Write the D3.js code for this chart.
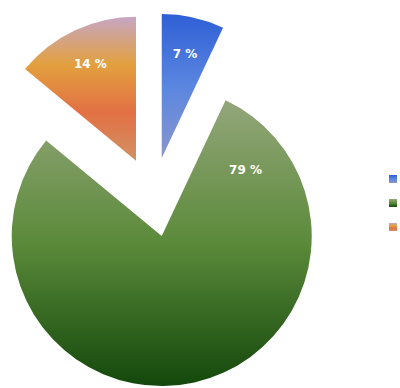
<!DOCTYPE html>
<html>
<head>
<meta charset="utf-8">
<script src="https://cdn.jsdelivr.net/npm/d3@7"></script>
<style>
  body { margin: 0; background: #fff; }
  svg { display: block; }
</style>
</head>
<body>
<svg width="400" height="388"></svg>
<script>
// slices, clockwise from 12 o'clock
var categories = ["A", "B", "C"];
var values = [7, 79, 14];
var labels = ["7 %", "79 %", "14 %"];
// vertical gradient stops per slice (top -> bottom)
var gradStops = [
    ["#2f5fd6", "#5a86e0", "#8a96cc"],
    ["#93a67a", "#5b8a3a", "#14480c"],
    ["#c6a6c4", "#e2a03e", "#e27044", "#d29264"]
];

var svg = d3.select("svg");
var cx = 153, cy = 197, explode = 40;
var rBig = 150, rSmall = 144;
var vMax = d3.max(values);

var pie = d3.pie().sort(null).value(d => d);
var arcs = pie(values);
var radius = d => d.value === vMax ? rBig : rSmall;
var arc = d3.arc().innerRadius(0).outerRadius(radius);

var defs = svg.append("defs");
arcs.forEach(function (a, i) {
    var g = defs.append("linearGradient")
        .attr("id", "grad" + i)
        .attr("x1", 0).attr("y1", 0).attr("x2", 0).attr("y2", 1);
    var st = gradStops[i];
    st.forEach(function (c, k) {
        g.append("stop").attr("offset", k / (st.length - 1)).attr("stop-color", c);
    });
});

var gPie = svg.append("g").attr("transform", "translate(" + cx + "," + cy + ")");

var slice = gPie.selectAll("g.slice")
    .data(arcs).enter().append("g")
    .attr("class", "slice")
    .attr("transform", function (d) {
        var m = (d.startAngle + d.endAngle) / 2;
        return "translate(" + (explode * Math.sin(m)) + "," + (-explode * Math.cos(m)) + ")";
    });

slice.append("path")
    .attr("d", arc)
    .attr("fill", (d, i) => "url(#grad" + i + ")");

slice.append("text")
    .attr("transform", function (d) {
        var a = d.startAngle + Math.min((d.endAngle - d.startAngle) / 2, 0.46);
        var lr = 107;
        return "translate(" + (lr * Math.sin(a)) + "," + (-lr * Math.cos(a)) + ")";
    })
    .attr("text-anchor", "middle")
    .attr("dy", "0.35em")
    .attr("fill", "#fff")
    .attr("font-family", "DejaVu Sans, sans-serif")
    .attr("font-weight", "bold")
    .attr("font-size", 12)
    .text((d, i) => labels[i]);

// legend markers
var legY = d3.scaleBand().domain(categories).range([171, 243]);
var leg = svg.append("g").selectAll("rect")
    .data(categories).enter().append("rect")
    .attr("x", 389)
    .attr("y", d => legY(d) + 4)
    .attr("width", 8).attr("height", 8)
    .attr("fill", (d, i) => "url(#grad" + i + ")");
</script>
</body>
</html>
